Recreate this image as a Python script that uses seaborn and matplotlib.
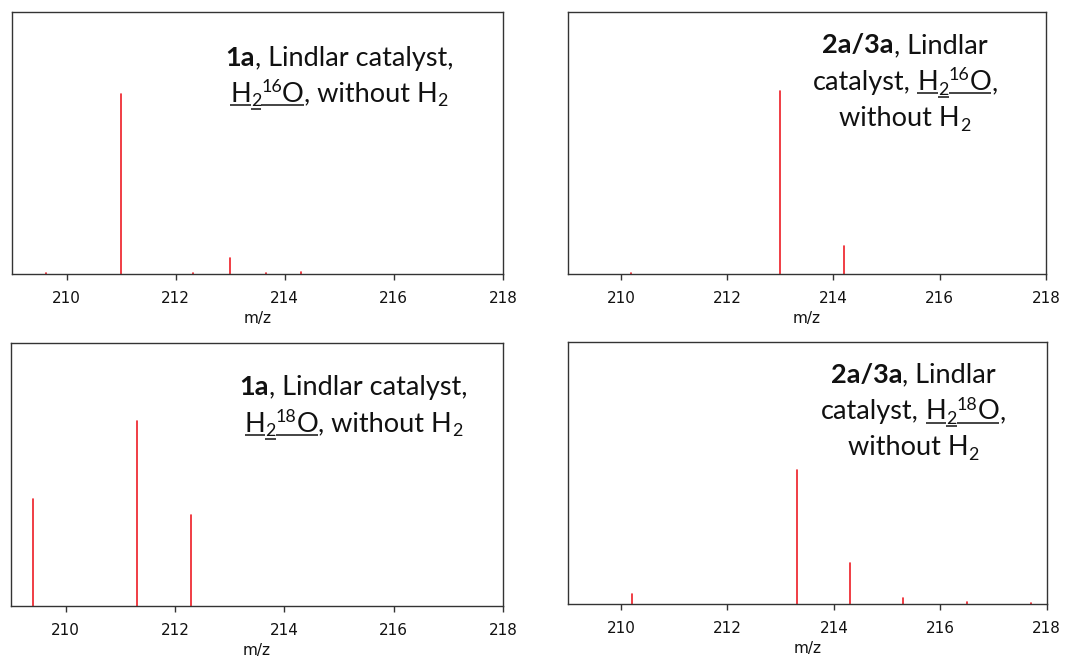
import numpy as np
import pandas as pd
import matplotlib
matplotlib.use("Agg")
import matplotlib.pyplot as plt
import seaborn as sns

# Stick spectra (m/z, relative intensity) for the four labelling experiments
mz_1a_h2o16 = [209.63, 211.0, 212.31, 213.0, 213.65, 214.3]
int_1a_h2o16 = [0.003, 0.687, 0.003, 0.062, 0.005, 0.008]

mz_2a3a_h2o16 = [210.2, 213.0, 214.2]
int_2a3a_h2o16 = [0.004, 0.700, 0.107]

mz_1a_h2o18 = [209.41, 211.30, 212.30]
int_1a_h2o18 = [0.408, 0.705, 0.346]

mz_2a3a_h2o18 = [210.2, 213.3, 214.3, 215.3, 216.5, 217.7]
int_2a3a_h2o18 = [0.037, 0.511, 0.157, 0.024, 0.006, 0.003]

x_ticks = [210, 212, 214, 216, 218]
x_label = "m/z"

sns.set_theme(style="ticks")
plt.rcParams["font.family"] = ["DejaVu Sans"]

RED = "#ee1c25"
INK = "#111111"
SPINE = "#333333"
LABEL_FONT = "Lato"
LABEL_SIZE = 19.5

fig = plt.figure(figsize=(10.77, 6.59), dpi=100)
renderer = fig.canvas.get_renderer()

axes_rects = [
    [0.0111, 0.5842, 0.4559, 0.3976],
    [0.5271, 0.5842, 0.4441, 0.3976],
    [0.0102, 0.0804, 0.4568, 0.3986],
    [0.5271, 0.0835, 0.4448, 0.3980],
]


def stick_frame(mz, inten):
    rows = []
    for i, (m, h) in enumerate(zip(mz, inten)):
        rows.append({"mz": m, "intensity": 0.0, "peak": i})
        rows.append({"mz": m, "intensity": h, "peak": i})
    return pd.DataFrame(rows)


def style_axes(ax):
    ax.set_xlim(209, 218)
    ax.set_ylim(0, 1)
    ax.set_xticks(x_ticks)
    ax.set_xticklabels([str(t) for t in x_ticks])
    ax.set_yticks([])
    ax.set_ylabel("")
    ax.set_xlabel(x_label, fontsize=11, color=INK, labelpad=4)
    ax.tick_params(axis="x", length=4, width=1.0, color=SPINE, pad=8,
                   labelsize=11, labelcolor=INK, direction="out")
    for s in ax.spines.values():
        s.set_visible(True)
        s.set_color(SPINE)
        s.set_linewidth(1.0)


def draw_label(ax, lines, xc, baselines, size):
    """Lay out rich text runs (bold / sub / sup / underline), centred at xc."""
    bb = ax.get_window_extent(renderer)
    axw, axh = bb.width, bb.height
    pt = fig.dpi / 72.0
    probe1 = ax.text(0, 0, "a a", fontsize=size, family=LABEL_FONT)
    probe2 = ax.text(0, 0, "aa", fontsize=size, family=LABEL_FONT)
    space_w = probe1.get_window_extent(renderer).width - probe2.get_window_extent(renderer).width
    probe1.remove()
    probe2.remove()
    for runs, yb in zip(lines, baselines):
        placed = []
        total = 0.0
        for txt, kind, ul in runs:
            if kind == "space":
                placed.append((None, space_w, kind, ul))
                total += space_w
                continue
            fs = size * 0.66 if kind in ("sub", "sup") else size
            weight = "bold" if kind == "b" else "normal"
            t = ax.text(0, 0, txt, fontsize=fs, fontweight=weight, family=LABEL_FONT,
                        color=INK, transform=ax.transAxes, ha="left", va="baseline",
                        clip_on=False)
            w = t.get_window_extent(renderer).width
            placed.append((t, w, kind, ul))
            total += w
        x = xc * axw - total / 2.0
        for t, w, kind, ul in placed:
            dy = 0.0
            if kind == "sub":
                dy = -0.17 * size * pt
            elif kind == "sup":
                dy = 0.36 * size * pt
            if t is not None:
                t.set_position((x / axw, yb + dy / axh))
            if ul:
                uy = -0.12 * size * pt
                if kind == "sub":
                    uy = dy - 0.09 * size * pt
                ax.plot([x / axw, (x + w) / axw], [yb + uy / axh] * 2,
                        transform=ax.transAxes, color=INK, lw=1.1,
                        solid_capstyle="butt", clip_on=False)
            x += w


def water_runs(iso):
    return [("H", "n", True), ("2", "sub", True), (iso, "sup", True), ("O", "n", True)]


spectra = [
    (mz_1a_h2o16, int_1a_h2o16),
    (mz_2a3a_h2o16, int_2a3a_h2o16),
    (mz_1a_h2o18, int_1a_h2o18),
    (mz_2a3a_h2o18, int_2a3a_h2o18),
]

labels = [
    ([[("1a", "b", False), (", Lindlar catalyst,", "n", False)],
      water_runs("16") + [(", without H", "n", False), ("2", "sub", False)]],
     0.666, [0.795, 0.658]),
    ([[("2a/3a", "b", False), (", Lindlar", "n", False)],
      [("catalyst,", "n", False), (" ", "space", False)] + water_runs("16") + [(",", "n", False)],
      [("without H", "n", False), ("2", "sub", False)]],
     0.705, [0.842, 0.702, 0.565]),
    ([[("1a", "b", False), (", Lindlar catalyst,", "n", False)],
      water_runs("18") + [(", without H", "n", False), ("2", "sub", False)]],
     0.696, [0.803, 0.664]),
    ([[("2a/3a", "b", False), (", Lindlar", "n", False)],
      [("catalyst,", "n", False), (" ", "space", False)] + water_runs("18") + [(",", "n", False)],
      [("without H", "n", False), ("2", "sub", False)]],
     0.721, [0.844, 0.704, 0.568]),
]

for rect, (mz, inten), (lines, xc, ys) in zip(axes_rects, spectra, labels):
    ax = fig.add_axes(rect)
    df = stick_frame(mz, inten)
    sns.lineplot(data=df, x="mz", y="intensity", units="peak", estimator=None,
                 sort=False, color=RED, lw=1.2, ax=ax, legend=False)
    style_axes(ax)
    draw_label(ax, lines, xc, ys, LABEL_SIZE)

fig.savefig("out.png", dpi=100, facecolor="white")
